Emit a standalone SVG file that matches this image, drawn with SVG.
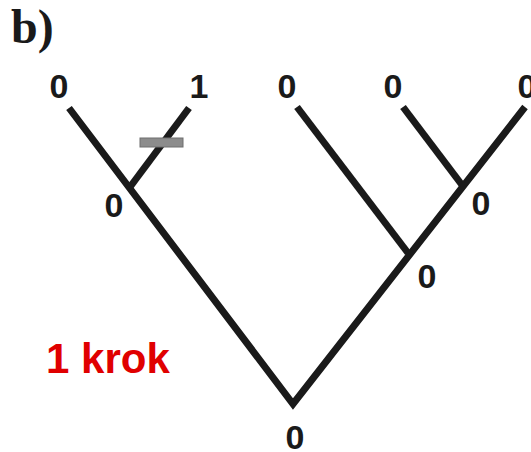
<svg xmlns="http://www.w3.org/2000/svg" width="531" height="452" viewBox="0 0 531 452">
<style>
.edge{stroke:#1a1a1a;stroke-width:7;fill:none;stroke-linecap:butt;stroke-linejoin:miter}
.lbl{font-family:"Liberation Sans",Arial,sans-serif;font-weight:bold;font-size:34px;fill:#1a1a1a;text-anchor:middle}
</style>
<rect width="531" height="452" fill="#ffffff"/>
<text x="11" y="43" font-family="Liberation Serif,Times New Roman,serif" font-weight="bold" font-size="48" fill="#1a1a1a">b)</text>
<g id="connectors">
<polyline class="edge" points="69,108 293,404 525,107"/>
<line class="edge" x1="189" y1="108" x2="130" y2="187"/>
<line class="edge" x1="297" y1="107" x2="408" y2="253"/>
<line class="edge" x1="403" y1="107" x2="462" y2="185"/>
</g>
<rect id="mark" x="140" y="138" width="43" height="9" fill="#8c8c8c" stroke="#6e6e6e" stroke-width="1"/>
<g id="leaf1"><text class="lbl" x="59" y="98">0</text></g>
<g id="leaf2"><text class="lbl" x="199" y="98">1</text></g>
<g id="leaf3"><text class="lbl" x="287" y="98">0</text></g>
<g id="leaf4"><text class="lbl" x="393" y="98">0</text></g>
<g id="leaf5"><text class="lbl" x="527" y="98">0</text></g>
<g id="nodeA"><text class="lbl" x="114" y="217">0</text></g>
<g id="nodeB"><text class="lbl" x="481" y="215">0</text></g>
<g id="nodeC"><text class="lbl" x="427" y="288">0</text></g>
<g id="root"><text class="lbl" x="295" y="449">0</text></g>
<text x="46" y="373" font-family="Liberation Sans,Arial,sans-serif" font-weight="bold" font-size="42" fill="#e00000">1 krok</text>
</svg>
